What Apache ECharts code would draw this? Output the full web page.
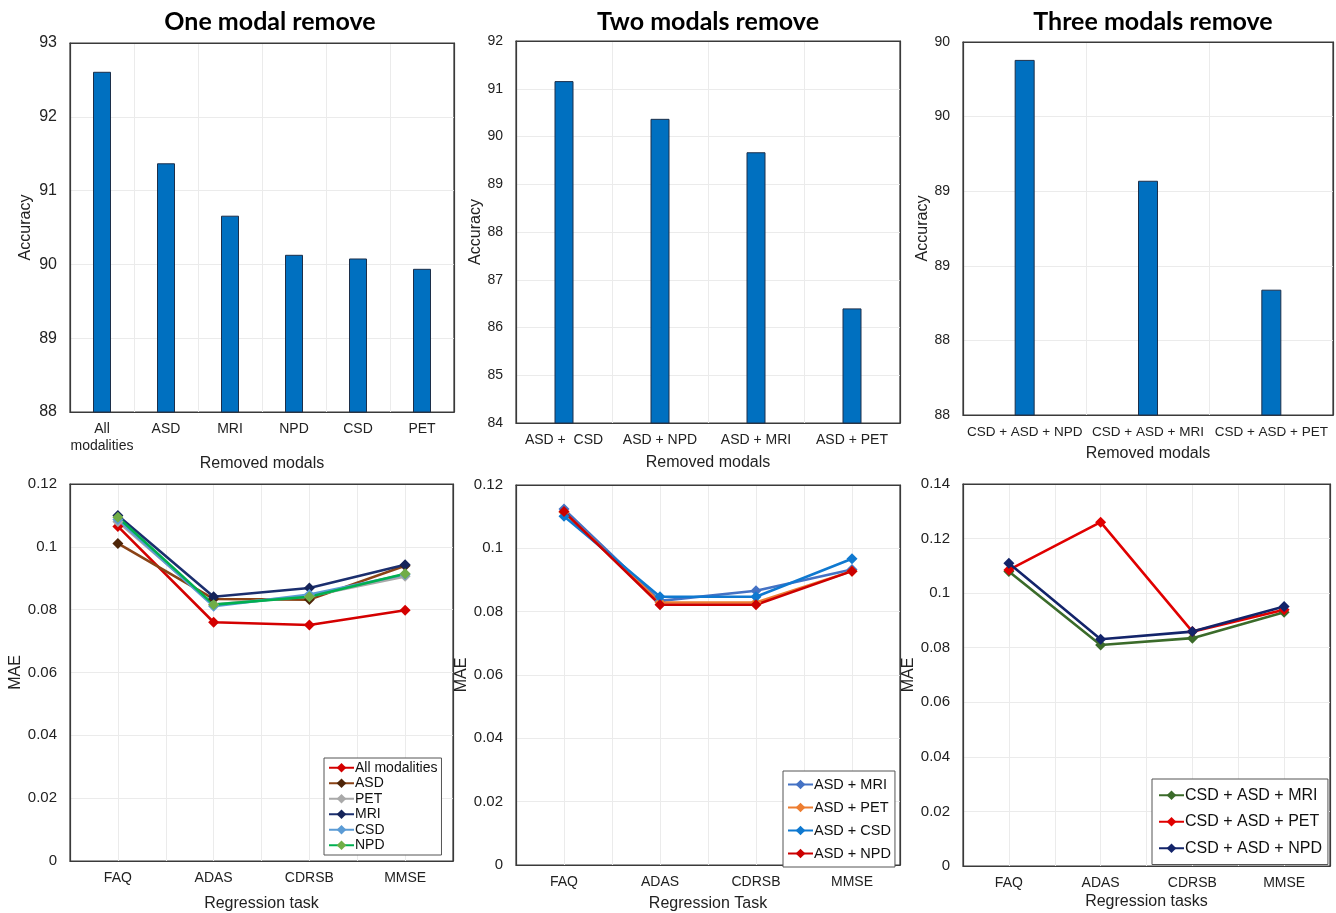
<!DOCTYPE html>
<html>
<head>
<meta charset="utf-8">
<script src="https://cdn.jsdelivr.net/npm/echarts@6/dist/echarts.min.js"></script>
<style>
  html, body { margin: 0; padding: 0; background: #fff; }
  #chart { width: 1336px; height: 913px; }
</style>
</head>
<body>
<div id="chart"></div>
<script>
// ---- Accuracy after removing modalities ----
const oneCats = ['All\nmodalities', 'ASD', 'MRI', 'NPD', 'CSD', 'PET'];
const oneAcc = [92.61, 91.37, 90.66, 90.13, 90.08, 89.94];

const twoCats = ['ASD +  CSD', 'ASD + NPD', 'ASD + MRI', 'ASD + PET'];
const twoAcc = [91.16, 90.37, 89.67, 86.40];

const threeCats = ['CSD + ASD + NPD', 'CSD + ASD + MRI', 'CSD + ASD + PET'];
const threeAcc = [89.88, 89.07, 88.34];

// ---- MAE per regression task ----
const tasks = ['FAQ', 'ADAS', 'CDRSB', 'MMSE'];

const oneNames = ['All modalities', 'ASD', 'PET', 'MRI', 'CSD', 'NPD'];
const maeOneAll = [0.1065, 0.0760, 0.0751, 0.0798];
const maeOneASD = [0.1011, 0.0834, 0.0832, 0.0940];
const maeOnePET = [0.1080, 0.0816, 0.0843, 0.0906];
const maeOneMRI = [0.1100, 0.0841, 0.0869, 0.0943];
const maeOneCSD = [0.1087, 0.0811, 0.0848, 0.0912];
const maeOneNPD = [0.1094, 0.0816, 0.0841, 0.0914];

const twoNames = ['ASD + MRI', 'ASD + PET', 'ASD + CSD', 'ASD + NPD'];
const maeTwoMRI = [0.1124, 0.0834, 0.0866, 0.0933];
const maeTwoPET = [0.1114, 0.0829, 0.0829, 0.0928];
const maeTwoCSD = [0.1101, 0.0847, 0.0847, 0.0967];
const maeTwoNPD = [0.1116, 0.0822, 0.0822, 0.0928];

const threeNames = ['CSD + ASD + MRI', 'CSD + ASD + PET', 'CSD + ASD + NPD'];
const maeThreeMRI = [0.1079, 0.0810, 0.0835, 0.0930];
const maeThreePET = [0.1085, 0.1260, 0.0859, 0.0939];
const maeThreeNPD = [0.1110, 0.0831, 0.0859, 0.0951];

const titles = ['One modal remove', 'Two modals remove', 'Three modals remove'];

// ---- styling ----
const FONT = '"Liberation Sans", Arial, sans-serif';
const GRID_LINE = '#ebebeb';
const FRAME = '#3a3a3a';
const BAR_BLUE = '#0070c0';

const grids = [
  { left: 70,  top: 43,  width: 384, height: 369 },
  { left: 516, top: 41,  width: 384, height: 382 },
  { left: 963, top: 42,  width: 370, height: 373 },
  { left: 70,  top: 484, width: 383, height: 378 },
  { left: 516, top: 485, width: 384, height: 383 },
  { left: 963, top: 484, width: 367, height: 382 }
].map(g => Object.assign({ show: true, borderColor: FRAME, borderWidth: 1.2, backgroundColor: '#fff' }, g));

function catAxis(gridIndex, data, name, nameGap, fontSize) {
  return {
    type: 'category', gridIndex, data,
    boundaryGap: true,
    name, nameLocation: 'middle', nameGap,
    nameTextStyle: { fontFamily: FONT, fontSize: 16, color: '#222' },
    axisLine: { show: true, lineStyle: { color: FRAME, width: 1.2 } },
    axisTick: { show: false },
    axisLabel: { fontFamily: FONT, fontSize: fontSize, color: '#222', margin: 9, interval: 0, lineHeight: 17 },
    splitLine: { show: true, interval: 0, lineStyle: { color: GRID_LINE, width: 1 } }
  };
}

// finer vertical rules that also pass through the task centres
function halfAxis(gridIndex) {
  return {
    type: 'category', gridIndex,
    data: tasks.flatMap(t => [t + 'a', t + 'b']),
    boundaryGap: true, show: true,
    axisLine: { show: false }, axisTick: { show: false }, axisLabel: { show: false },
    splitLine: { show: true, interval: 0, lineStyle: { color: GRID_LINE, width: 1 } }
  };
}

// plain edges on the top and right of each plot, drawn over the grid rules
function edgeAxis(gridIndex, position) {
  return {
    type: 'value', gridIndex, position, min: 0, max: 1,
    axisLine: { show: true, onZero: false, lineStyle: { color: FRAME, width: 1.2 } },
    axisTick: { show: false }, axisLabel: { show: false }, splitLine: { show: false }
  };
}

function valAxis(gridIndex, min, max, interval, nameGap, fontSize, formatter) {
  const ax = {
    type: 'value', gridIndex, min, max, interval,
    name: gridIndex < 3 ? 'Accuracy' : 'MAE',
    nameLocation: 'middle', nameGap,
    nameTextStyle: { fontFamily: FONT, fontSize: 16, color: '#222' },
    axisLine: { show: true, lineStyle: { color: FRAME, width: 1.2 } },
    axisTick: { show: false },
    axisLabel: { fontFamily: FONT, fontSize: fontSize, color: '#222', margin: 13 },
    splitLine: { show: true, lineStyle: { color: GRID_LINE, width: 1 } }
  };
  if (formatter) ax.axisLabel.formatter = formatter;
  return ax;
}

const xAxis = [
  catAxis(0, oneCats, 'Removed modals', 34, 14),
  catAxis(1, twoCats, 'Removed modals', 32, 14),
  catAxis(2, threeCats, 'Removed modals', 31, 13.5),
  catAxis(3, tasks, 'Regression task', 35, 14),
  catAxis(4, tasks, 'Regression Task', 31, 14),
  catAxis(5, tasks, 'Regression tasks', 28, 14),
  halfAxis(3), halfAxis(4), halfAxis(5)
];
for (let g = 0; g < 6; g++) xAxis.push(edgeAxis(g, 'top'));

const yAxis = [
  valAxis(0, 88, 93, 1, 36, 16),
  valAxis(1, 84, 92, 1, 31, 14),
  valAxis(2, 87.5, 90, 0.5, 31, 14, v => v.toFixed(0)),
  valAxis(3, 0, 0.12, 0.02, 44, 15),
  valAxis(4, 0, 0.12, 0.02, 44, 15),
  valAxis(5, 0, 0.14, 0.02, 44, 15)
];
for (let g = 0; g < 6; g++) yAxis.push(edgeAxis(g, 'right'));

function barSeries(idx, data, width) {
  return {
    type: 'bar', xAxisIndex: idx, yAxisIndex: idx, data,
    barWidth: width,
    itemStyle: { color: BAR_BLUE, borderColor: '#1c2f4a', borderWidth: 1 },
    silent: true
  };
}

function lineSeries(idx, name, data, lineColor, markColor) {
  return {
    type: 'line', name, xAxisIndex: idx, yAxisIndex: idx, data,
    symbol: 'diamond', symbolSize: 11,
    lineStyle: { color: lineColor, width: 2.6 },
    itemStyle: { color: markColor || lineColor, borderWidth: 0 },
    emphasis: { disabled: true },
    z: 3
  };
}

const series = [
  barSeries(0, oneAcc, 18),
  barSeries(1, twoAcc, 19),
  barSeries(2, threeAcc, 20),

  lineSeries(3, oneNames[0], maeOneAll, '#d40000'),
  lineSeries(3, oneNames[1], maeOneASD, '#8a4316', '#4e2508'),
  lineSeries(3, oneNames[2], maeOnePET, '#a9a9a9'),
  lineSeries(3, oneNames[3], maeOneMRI, '#1b2f6e', '#15245a'),
  lineSeries(3, oneNames[4], maeOneCSD, '#5b9bd5'),
  lineSeries(3, oneNames[5], maeOneNPD, '#00b050', '#70ad47'),

  lineSeries(4, twoNames[0], maeTwoMRI, '#4472c4'),
  lineSeries(4, twoNames[1], maeTwoPET, '#ed7d31'),
  lineSeries(4, twoNames[2], maeTwoCSD, '#0f79d0'),
  lineSeries(4, twoNames[3], maeTwoNPD, '#cc0000'),

  lineSeries(5, threeNames[0], maeThreeMRI, '#3b6b2a'),
  lineSeries(5, threeNames[1], maeThreePET, '#e00000'),
  lineSeries(5, threeNames[2], maeThreeNPD, '#13246a')
];

function legendBox(names, left, top, fontSize, lineHeight, gap, pad) {
  return {
    data: names, orient: 'vertical', left, top,
    itemWidth: 25, itemHeight: 12, itemGap: gap,
    padding: pad,
    borderColor: '#555', borderWidth: 1, backgroundColor: '#fff',
    textStyle: { fontFamily: FONT, fontSize, lineHeight, color: '#111', padding: [0, 0, 0, -4] },
    selectedMode: false
  };
}

const legend = [
  legendBox(oneNames, 324, 758, 14, 15.5, 0, [2, 4, 2, 4]),
  legendBox(twoNames, 783, 771, 14.5, 17, 6, [5, 4, 5, 4]),
  legendBox(threeNames, 1152, 779, 16, 18.5, 8, [7, 6, 7, 6])
];

const titleCenters = [265, 703, 1148];
const title = titles.map((t, i) => ({
  text: t, left: titleCenters[i], top: 4, textAlign: 'center',
  textStyle: { fontFamily: 'Lato, "Open Sans", sans-serif', fontWeight: 'bold', fontSize: 25, color: '#000' }
}));

const chart = echarts.init(document.getElementById('chart'), null, { renderer: 'canvas' });
chart.setOption({
  animation: false,
  backgroundColor: '#fff',
  title, grid: grids, xAxis, yAxis, series, legend
});
</script>
</body>
</html>
